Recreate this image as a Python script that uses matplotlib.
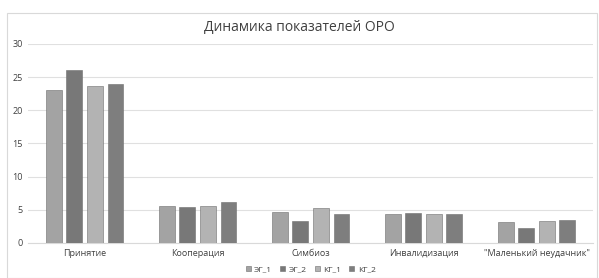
import matplotlib
matplotlib.use("Agg")
import matplotlib.pyplot as plt
import numpy as np
from matplotlib.patches import Rectangle

plt.rcParams['font.family'] = ['Open Sans', 'DejaVu Sans']

# данные
categories = ['Принятие', 'Кооперация', 'Симбиоз', 'Инвалидизация', '"Маленький неудачник"']
series_names = ['ЭГ_1', 'ЭГ_2', 'КГ_1', 'КГ_2']
eg1 = [23.1, 5.6, 4.6, 4.4, 3.1]
eg2 = [26.0, 5.4, 3.3, 4.5, 2.2]
kg1 = [23.6, 5.6, 5.3, 4.3, 3.3]
kg2 = [23.9, 6.1, 4.3, 4.4, 3.4]
colors = ['#a3a3a3', '#787878', '#b3b3b3', '#7e7e7e']

fig = plt.figure(figsize=(5.99, 2.78), dpi=100)
ax = fig.add_axes([0.047, 0.126, 0.943, 0.716])

x = np.arange(len(categories))
w = 0.14
step = 0.182
for i, (vals, name) in enumerate(zip([eg1, eg2, kg1, kg2], series_names)):
    ax.bar(x + (i - 1.5) * step, vals, w, color=colors[i], edgecolor='#6e6e6e',
           linewidth=0.4, label=name, zorder=3)

ax.set_xlim(-0.5, len(categories) - 0.5)
ax.set_ylim(0, 30)
ax.set_yticks(np.arange(0, 31, 5))
ax.set_xticks(x)
ax.set_xticklabels(categories, fontsize=6.5, color='#404040')
ax.tick_params(axis='y', labelsize=6.5, colors='#404040', length=0, pad=4)
ax.tick_params(axis='x', length=0, pad=4)
ax.grid(axis='y', color='#e0e0e0', linewidth=0.8, zorder=0)
for s in ['top', 'right', 'left']:
    ax.spines[s].set_visible(False)
ax.spines['bottom'].set_color('#d9d9d9')

fig.text(0.5, 0.9, 'Динамика показателей ОРО', ha='center', va='center',
         fontsize=10, color='#404040')

ax.legend(loc='upper center', bbox_to_anchor=(0.5, -0.085), ncol=4, frameon=False,
          fontsize=6, handlelength=0.6, handleheight=0.6, columnspacing=1.0,
          handletextpad=0.4, labelcolor='#404040', borderpad=0.2)

fig.patches.append(Rectangle((0.012, 0.0), 0.985, 0.955, transform=fig.transFigure,
                             fill=False, edgecolor='#d9d9d9', linewidth=0.8))

fig.savefig('out.png', dpi=100)
